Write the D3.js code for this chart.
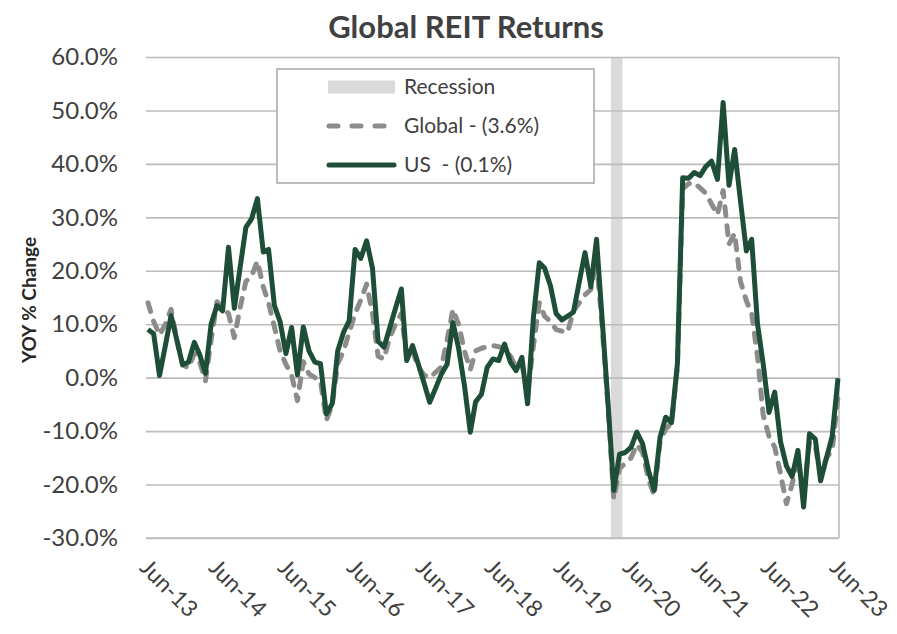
<!DOCTYPE html>
<html>
<head>
<meta charset="utf-8">
<script src="https://cdn.jsdelivr.net/npm/d3@7"></script>
<style>
  html, body { margin: 0; padding: 0; background: #fff; }
  svg { display: block; font-family: Lato, "Open Sans", "Noto Sans", sans-serif; }
</style>
</head>
<body>
<svg id="chart" width="897" height="634"></svg>
<script>
// ---- Data ----
const startMonth = new Date(2013, 5, 1);   // Jun-13
const endMonth = new Date(2023, 5, 1);     // Jun-23
const months = d3.timeMonth.range(startMonth, d3.timeMonth.offset(endMonth, 1));

const tickLabels = ["Jun-13","Jun-14","Jun-15","Jun-16","Jun-17","Jun-18","Jun-19","Jun-20","Jun-21","Jun-22","Jun-23"];
const yTicks = [60, 50, 40, 30, 20, 10, 0, -10, -20, -30];

const recessionMonths = [new Date(2020, 2, 1), new Date(2020, 3, 1)];

const usValues = [
  9.0, 8.2, 0.4, 6.0, 11.6, 7.0, 2.4, 2.9, 6.6, 4.4, 0.8, 10.0,
  13.5, 12.5, 24.4, 13.0, 20.5, 28.1, 29.7, 33.5, 23.5, 24.0, 13.5, 10.5,
  4.5, 9.4, 0.5, 9.5, 5.0, 2.9, 2.6, -6.8, -4.9, 5.0, 8.5, 10.7,
  24.0, 22.3, 25.6, 20.5, 6.8, 5.7, 9.3, 13.0, 16.6, 3.2, 6.0, 2.6,
  -1.0, -4.6, -2.0, 0.7, 2.5, 10.3, 5.5, -1.5, -10.2, -4.5, -3.1, 1.9,
  3.5, 3.2, 6.3, 2.9, 1.3, 3.8, -4.9, 11.3, 21.5, 20.5, 17.2, 12.0,
  10.8, 11.5, 12.3, 18.0, 23.4, 17.0, 25.9, 10.3, -5.4, -21.1, -14.3, -14.0,
  -13.0, -10.2, -12.4, -17.4, -21.1, -11.2, -7.4, -8.4, 2.6, 37.4, 37.3, 38.4,
  37.8, 39.5, 40.5, 37.1, 51.5, 36.0, 42.7, 33.0, 23.7, 25.9, 10.0, 2.6,
  -6.5, -2.7, -12.0, -16.5, -18.5, -13.6, -24.2, -10.5, -11.5, -19.3, -15.0, -11.0,
  -0.1
];

const globalValues = [
  14.0, 10.5, 8.0, 10.0, 12.8, 7.0, 2.5, 1.8, 4.5, 3.0, -0.6, 7.0,
  14.2, 13.0, 12.0, 7.5, 13.0, 18.0, 19.0, 21.8, 17.0, 14.0, 9.5, 5.0,
  2.5, 0.5, -4.3, 3.0, 0.7, 0.0, -0.6, -8.0, -5.0, 2.6, 5.0, 8.5,
  12.0, 14.5, 17.5, 12.0, 4.0, 3.5, 7.5, 10.0, 12.0, 3.8, 5.0, 2.0,
  0.5, 0.0, 1.0, 2.0, 7.0, 12.8, 10.0, 5.0, 1.5, 5.0, 5.5, 5.8,
  6.0, 5.8, 5.5, 4.0, 2.0, 2.5, -3.0, 6.0, 14.0, 11.5, 10.5, 9.0,
  8.7, 8.5, 12.5, 14.0, 15.5, 16.5, 22.0, 9.0, -6.0, -22.7, -17.0, -16.0,
  -15.0, -12.5, -14.0, -19.0, -22.0, -12.0, -9.6, -8.5, 2.0, 35.3, 36.3, 36.5,
  35.5, 34.5, 32.5, 30.5, 35.0, 25.0, 27.0, 18.0, 14.4, 12.0, 4.0, -7.0,
  -11.0, -13.0, -18.0, -23.6, -20.0, -15.0, -22.0, -12.0, -13.0, -18.0, -15.0, -13.6,
  -3.6
];

const legendItems = ["Recession", "Global - (3.6%)", "US  - (0.1%)"];
const titleText = "Global REIT Returns";
const yTitle = "YOY % Change";

// ---- Layout ----
const svg = d3.select("#chart");
const plot = { left: 146, right: 839, top: 57, bottom: 538 };
const textColor = "#404040";
const usColor = "#1f4e38";
const globalColor = "#8c8c8c";
const gridColor = "#bcbcbc";

const x = d3.scaleTime().domain([startMonth, endMonth]).range([148, 838]);
const y = d3.scaleLinear().domain([-30, 60]).range([plot.bottom, plot.top]);

// Recession band
const halfMonth = (x(months[1]) - x(months[0])) / 2;
svg.append("rect")
  .attr("x", x(recessionMonths[0]) - halfMonth)
  .attr("y", plot.top)
  .attr("width", x(recessionMonths[recessionMonths.length - 1]) - x(recessionMonths[0]) + 2 * halfMonth)
  .attr("height", plot.bottom - plot.top)
  .attr("fill", "#dadada");

// Gridlines via axis
const yAxis = d3.axisLeft(y).tickValues(yTicks).tickSize(-(plot.right - plot.left)).tickFormat(d => d.toFixed(1) + "%");
const gy = svg.append("g").attr("transform", `translate(${plot.left},0)`).call(yAxis);
gy.select(".domain").remove();
gy.selectAll(".tick line").attr("stroke", gridColor).attr("stroke-width", 1.6);
gy.selectAll(".tick text")
  .attr("x", -28)
  .attr("fill", textColor)
  .style("font-size", "24px")
  .style("font-family", "Lato, 'Open Sans', sans-serif");

// Plot border (right side)
svg.append("line")
  .attr("x1", plot.right).attr("x2", plot.right)
  .attr("y1", plot.top).attr("y2", plot.bottom)
  .attr("stroke", gridColor).attr("stroke-width", 1.6);

// X axis labels
const tickDates = tickLabels.map((_, i) => new Date(2013 + i, 5, 1));
const xAxis = d3.axisBottom(x).tickValues(tickDates).tickSize(0).tickFormat((d, i) => tickLabels[i]);
const gx = svg.append("g").attr("transform", `translate(0,${plot.bottom})`).call(xAxis);
gx.select(".domain").attr("stroke", gridColor).attr("stroke-width", 1.6).attr("d", `M${plot.left},0H${plot.right}`);
gx.selectAll(".tick text")
  .attr("fill", textColor)
  .style("font-size", "23px")
  .style("font-family", "Lato, 'Open Sans', sans-serif")
  .attr("text-anchor", "start")
  .attr("dy", null)
  .attr("y", 0)
  .attr("transform", "translate(-10,31) rotate(45)");

// Lines
const line = d3.line().x((d, i) => x(months[i])).y(d => y(d));

svg.append("path")
  .datum(globalValues)
  .attr("fill", "none")
  .attr("stroke", globalColor)
  .attr("stroke-width", 5)
  .attr("stroke-dasharray", "9,10")
  .attr("stroke-linecap", "round")
  .attr("stroke-linejoin", "round")
  .attr("d", line);

svg.append("path")
  .datum(usValues)
  .attr("fill", "none")
  .attr("stroke", usColor)
  .attr("stroke-width", 5)
  .attr("stroke-linejoin", "round")
  .attr("d", line);

// Title
svg.append("text")
  .attr("x", 466).attr("y", 38)
  .attr("text-anchor", "middle")
  .attr("fill", textColor)
  .style("font-size", "31px")
  .style("font-weight", "bold")
  .text(titleText);

// Y axis title
svg.append("text")
  .attr("transform", "translate(36,300) rotate(-90)")
  .attr("text-anchor", "middle")
  .attr("fill", "#262626")
  .style("font-size", "19px")
  .style("font-weight", "bold")
  .text(yTitle);

// Legend
const lg = svg.append("g");
lg.append("rect")
  .attr("x", 277).attr("y", 69).attr("width", 317).attr("height", 114)
  .attr("fill", "#fff").attr("stroke", "#a6a6a6").attr("stroke-width", 1.5);
const rowsY = [87, 126, 165];
lg.append("rect").attr("x", 328).attr("y", rowsY[0] - 6.5).attr("width", 67).attr("height", 13).attr("fill", "#dadada");
lg.append("line").attr("x1", 329).attr("x2", 394).attr("y1", rowsY[1]).attr("y2", rowsY[1])
  .attr("stroke", globalColor).attr("stroke-width", 5).attr("stroke-dasharray", "9,14").attr("stroke-linecap", "round");
lg.append("line").attr("x1", 329).attr("x2", 394).attr("y1", rowsY[2]).attr("y2", rowsY[2])
  .attr("stroke", usColor).attr("stroke-width", 5).attr("stroke-linecap", "round");
legendItems.forEach((t, i) => {
  lg.append("text")
    .attr("x", 404).attr("y", rowsY[i])
    .attr("dy", "0.35em")
    .attr("fill", textColor)
    .style("font-size", "21px")
    .style("white-space", "pre")
    .attr("xml:space", "preserve")
    .text(t);
});
</script>
</body>
</html>
